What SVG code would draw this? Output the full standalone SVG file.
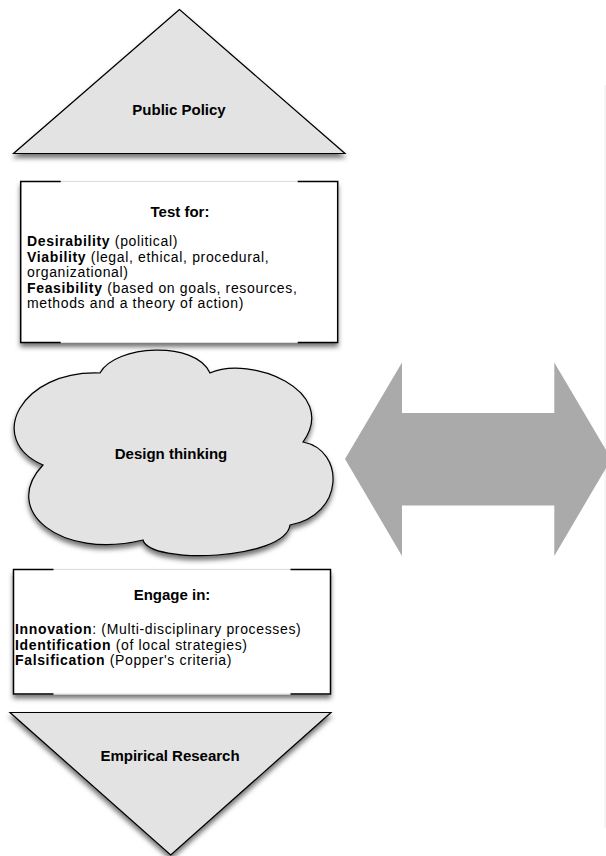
<svg xmlns="http://www.w3.org/2000/svg" width="606" height="856" viewBox="0 0 606 856">
  <defs>
    <filter id="shadow" x="-10%" y="-10%" width="120%" height="130%">
      <feDropShadow dx="0" dy="4" stdDeviation="2.5" flood-color="#000" flood-opacity="0.55"/>
    </filter>
  </defs>
  <style>
    .shape { fill: #e3e3e3; stroke: #000; stroke-width: 1.2; }
    .box { fill: #fff; stroke: #ddd; stroke-width: 1; }
    .edge { fill: none; stroke: #000; stroke-width: 1.5; }
    .t { font-family: "Liberation Sans", Arial, sans-serif; font-size: 15px; fill: #000; }
    .body { font-family: "Liberation Sans", Arial, sans-serif; font-size: 14px; letter-spacing: 0.65px; fill: #000; }
    .b { font-weight: bold; }
    .c { text-anchor: middle; }
    .arrow { fill: #aaaaaa; }
  </style>
  <rect width="606" height="856" fill="#fff"/>
  <rect x="604" y="85" width="2" height="743" fill="#f5f5f5"/>

  <g id="public-policy">
    <polygon class="shape" filter="url(#shadow)" points="179.5,9.5 13.5,153.5 345,153.5"/>
    <text class="t b c" x="179" y="115">Public Policy</text>
  </g>

  <g id="test-for">
    <rect class="box" filter="url(#shadow)" x="20.7" y="181.5" width="317" height="161"/>
    <path class="edge" d="M60.7,181.5 H20.7 V342.5 H60.7 M297.7,181.5 H337.7 V342.5 H297.7"/>
    <text class="t b c" x="180" y="217">Test for:</text>
    <text class="body" x="27" y="246"><tspan class="b">Desirability</tspan> (political)</text>
    <text class="body" x="27" y="261.6"><tspan class="b">Viability</tspan> (legal, ethical, procedural,</text>
    <text class="body" x="27" y="277.2">organizational)</text>
    <text class="body" x="27" y="292.8"><tspan class="b">Feasibility</tspan> (based on goals, resources,</text>
    <text class="body" x="27" y="308.4">methods and a theory of action)</text>
  </g>

  <g id="design-thinking">
    <path class="shape" filter="url(#shadow)" d="M100,373 C115,345 195,340 210,373 C250,355 340,390 303,442 C345,450 345,515 290,525 C285,560 150,565 143,540 C60,560 0,510 43,465 C-15,440 20,370 100,373 Z"/>
    <text class="t b c" x="171" y="459">Design thinking</text>
  </g>

  <g id="engage-in">
    <rect class="box" filter="url(#shadow)" x="13.5" y="569.5" width="317" height="124.5"/>
    <path class="edge" d="M53.5,569.5 H13.5 V694 H53.5 M290.5,569.5 H330.5 V694 H290.5"/>
    <text class="t b c" x="172" y="600">Engage in:</text>
    <text class="body" x="15" y="634"><tspan class="b">Innovation</tspan>: (Multi-disciplinary processes)</text>
    <text class="body" x="15" y="649.6"><tspan class="b">Identification</tspan> (of local strategies)</text>
    <text class="body" x="15" y="665.2"><tspan class="b">Falsification</tspan> (Popper's criteria)</text>
  </g>

  <g id="empirical-research">
    <polygon class="shape" filter="url(#shadow)" points="10,712.5 331,712.5 170.7,855"/>
    <text class="t b c" x="170" y="761">Empirical Research</text>
  </g>

  <g id="connectors">
    <polygon class="arrow" points="345,459 402,362.5 402,413 554.3,413 554.3,362.5 611.3,459 554.3,556 554.3,505.5 402,505.5 402,556"/>
  </g>
</svg>
